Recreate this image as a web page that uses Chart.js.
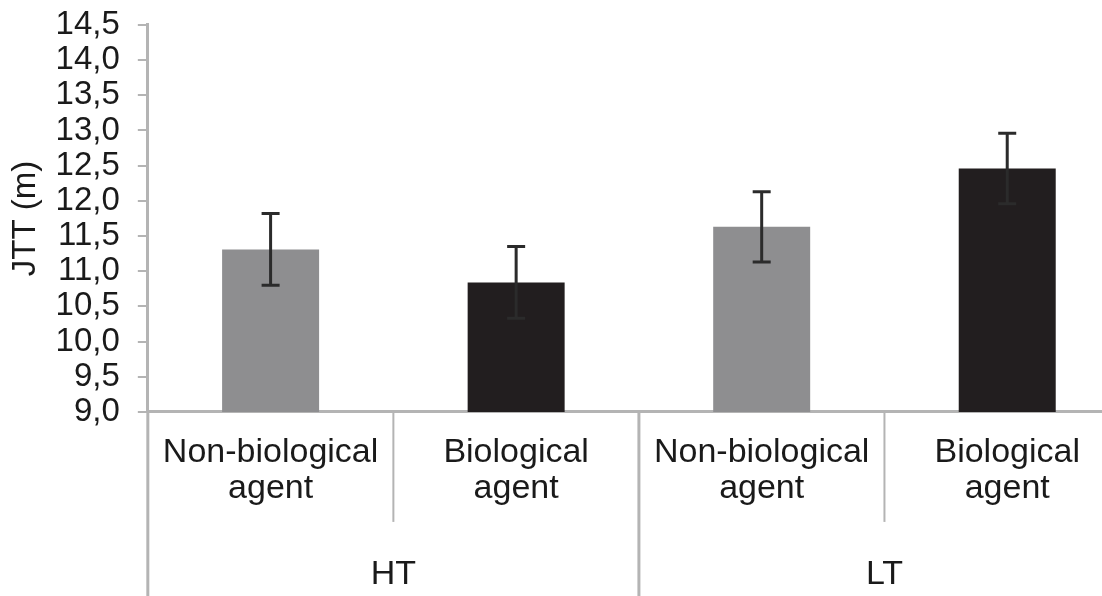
<!DOCTYPE html>
<html>
<head>
<meta charset="utf-8">
<script src="https://cdn.jsdelivr.net/npm/chart.js@4/dist/chart.umd.min.js"></script>
<style>
  html, body { margin: 0; padding: 0; background: #fff; overflow: hidden; }
  #wrap { width: 1130px; height: 596px; }
</style>
</head>
<body>
<div id="wrap"><canvas id="grafica" width="1130" height="596"></canvas></div>
<script>
// Datos
const categorias = [
    ['Non-biological', 'agent'],
    ['Biological', 'agent'],
    ['Non-biological', 'agent'],
    ['Biological', 'agent']
];
const grupos = ['HT', 'LT'];
const medias = [11.31, 10.84, 11.63, 12.46];
const errores = [0.51, 0.51, 0.50, 0.50];
const colores = ['#8e8e90', '#221e1f', '#8e8e90', '#221e1f'];
const yMin = 9.0;
const yMax = 14.5;
const yPaso = 0.5;

const fuente = "'Liberation Sans', Arial, sans-serif";
const gris = '#b4b4b4';

// Barras de error + separadores y etiquetas de grupo debajo del eje
const extras = {
    id: 'extras',
    afterDatasetsDraw(chart) {
        const ctx = chart.ctx;
        const x = chart.scales.x;
        const y = chart.scales.y;
        ctx.save();
        ctx.strokeStyle = '#2b2b2b';
        ctx.lineWidth = 3;
        medias.forEach((m, i) => {
            const cx = x.getPixelForValue(i);
            const yTop = y.getPixelForValue(m + errores[i]);
            const yBot = y.getPixelForValue(m - errores[i]);
            ctx.beginPath();
            ctx.moveTo(cx, yTop);
            ctx.lineTo(cx, yBot);
            ctx.moveTo(cx - 9, yTop);
            ctx.lineTo(cx + 9, yTop);
            ctx.moveTo(cx - 9, yBot);
            ctx.lineTo(cx + 9, yBot);
            ctx.stroke();
        });
        ctx.restore();
    },
    afterDraw(chart) {
        const ctx = chart.ctx;
        const x = chart.scales.x;
        const area = chart.chartArea;
        const base = area.bottom;
        ctx.save();
        ctx.strokeStyle = gris;
        ctx.lineWidth = 2;
        const borde = i => (x.getPixelForValue(i) + x.getPixelForValue(i + 1)) / 2;
        // separadores dentro de cada grupo
        [borde(0), borde(2)].forEach(px => {
            ctx.beginPath();
            ctx.moveTo(px, base);
            ctx.lineTo(px, base + 110);
            ctx.stroke();
        });
        // separadores entre grupos (hasta abajo)
        ctx.lineWidth = 3;
        [area.left, borde(1)].forEach(px => {
            ctx.beginPath();
            ctx.moveTo(px, base);
            ctx.lineTo(px, chart.height);
            ctx.stroke();
        });
        // etiquetas de grupo
        ctx.fillStyle = '#1a1a1a';
        ctx.font = '34px ' + fuente;
        ctx.textAlign = 'center';
        ctx.textBaseline = 'middle';
        grupos.forEach((g, k) => {
            const c0 = x.getPixelForValue(k * 2);
            const c1 = x.getPixelForValue(k * 2 + 1);
            ctx.fillText(g, (c0 + c1) / 2, base + 163);
        });
        ctx.restore();
    }
};

const ctx = document.getElementById('grafica').getContext('2d');
new Chart(ctx, {
    type: 'bar',
    data: {
        labels: categorias,
        datasets: [{
            data: medias,
            backgroundColor: colores,
            borderWidth: 0,
            categoryPercentage: 1.0,
            barPercentage: 0.395
        }]
    },
    options: {
        responsive: false,
        animation: false,
        devicePixelRatio: 1,
        layout: { padding: { left: 6, top: 0, right: 0, bottom: 66 } },
        plugins: {
            legend: { display: false },
            tooltip: { enabled: false }
        },
        scales: {
            x: {
                grid: { display: false, drawTicks: false },
                border: { display: true, color: gris, width: 3 },
                ticks: {
                    color: '#1a1a1a',
                    padding: 23,
                    maxRotation: 0,
                    autoSkip: false,
                    font: { family: fuente, size: 34, lineHeight: 1.06 }
                }
            },
            y: {
                min: yMin,
                max: yMax,
                grid: { display: true, drawOnChartArea: false, color: gris, lineWidth: 2, tickLength: 10 },
                border: { display: true, color: gris, width: 3 },
                ticks: {
                    stepSize: yPaso,
                    autoSkip: false,
                    color: '#1a1a1a',
                    padding: 18,
                    font: { family: fuente, size: 33, lineHeight: 0.42 },
                    callback: v => v.toFixed(1).replace('.', ',')
                },
                title: {
                    display: true,
                    text: 'JTT (m)',
                    color: '#1a1a1a',
                    font: { family: fuente, size: 33 },
                    padding: { top: 0, bottom: -8 }
                }
            }
        }
    },
    plugins: [extras]
});
</script>
</body>
</html>
